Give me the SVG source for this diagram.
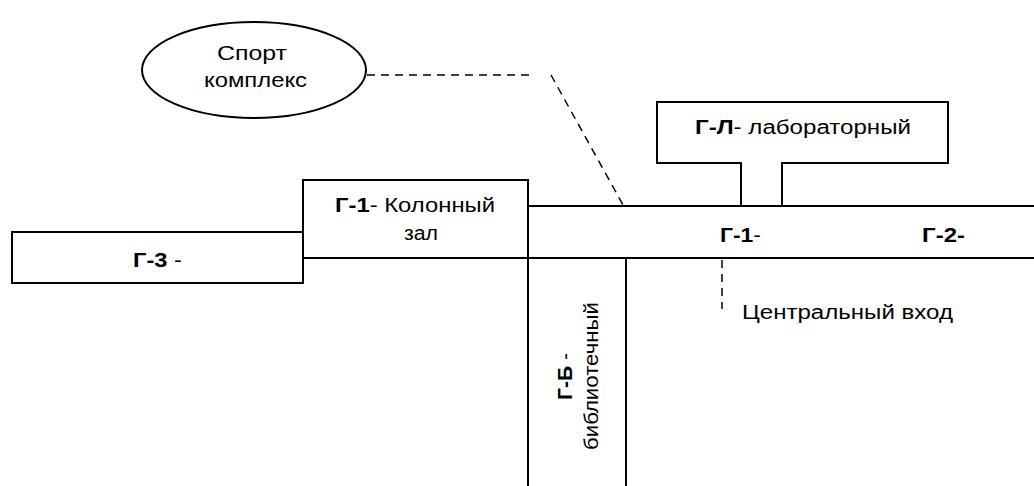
<svg xmlns="http://www.w3.org/2000/svg" width="1034" height="486" viewBox="0 0 1034 486">
<style>
.ln{fill:none;stroke:#000;stroke-width:2}
.dash{fill:none;stroke:#000;stroke-width:1.5;stroke-dasharray:8,6}
text{font-family:"Liberation Sans",Arial,sans-serif;font-size:20px;fill:#000}
.b{font-weight:bold}
</style>
<rect width="1034" height="486" fill="#fff"/>
<g id="connectors">
<path class="dash" d="M367,75 H530"/>
<path class="dash" d="M551,75 L623,205"/>
<path class="dash" d="M722,260 V309"/>
</g>
<g id="sport">
<ellipse class="ln" cx="254" cy="70" rx="112" ry="48"/>
<text x="217" y="60" textLength="70" lengthAdjust="spacingAndGlyphs">Спорт</text>
<text x="204" y="87" textLength="103" lengthAdjust="spacingAndGlyphs">комплекс</text>
</g>
<g id="g-l">
<path class="ln" d="M741,206 V163 H657 V102 H948 V163 H782 V206"/>
<text x="695" y="134" textLength="216" lengthAdjust="spacingAndGlyphs"><tspan class="b">Г-Л</tspan>- лабораторный</text>
</g>
<g id="g-1-main">
<path class="ln" d="M528,206 H1034 M303,258 H1034"/>
<text x="720" y="242" textLength="41" lengthAdjust="spacingAndGlyphs"><tspan class="b">Г-1</tspan>-</text>
</g>
<g id="g-2">
<text class="b" x="922" y="242" textLength="43" lengthAdjust="spacingAndGlyphs">Г-2-</text>
</g>
<g id="g-1-hall">
<path class="ln" d="M303,258 V180 H528 V258"/>
<text x="335" y="212" textLength="160" lengthAdjust="spacingAndGlyphs"><tspan class="b">Г-1</tspan>- Колонный</text>
<text x="404" y="240" textLength="34" lengthAdjust="spacingAndGlyphs">зал</text>
</g>
<g id="g-3">
<rect class="ln" x="12" y="232" width="291" height="51"/>
<text x="133" y="267" textLength="49" lengthAdjust="spacingAndGlyphs"><tspan class="b">Г-3</tspan> -</text>
</g>
<g id="g-b">
<path class="ln" d="M528,258 V486 M626,258 V486"/>
<text x="572" y="400" transform="rotate(-90 572 400)" textLength="47" lengthAdjust="spacingAndGlyphs"><tspan class="b">Г-Б</tspan> -</text>
<text x="598" y="450" transform="rotate(-90 598 450)" textLength="148" lengthAdjust="spacingAndGlyphs">библиотечный</text>
</g>
<g id="entrance">
<text x="742" y="319" textLength="211" lengthAdjust="spacingAndGlyphs">Центральный вход</text>
</g>
</svg>
